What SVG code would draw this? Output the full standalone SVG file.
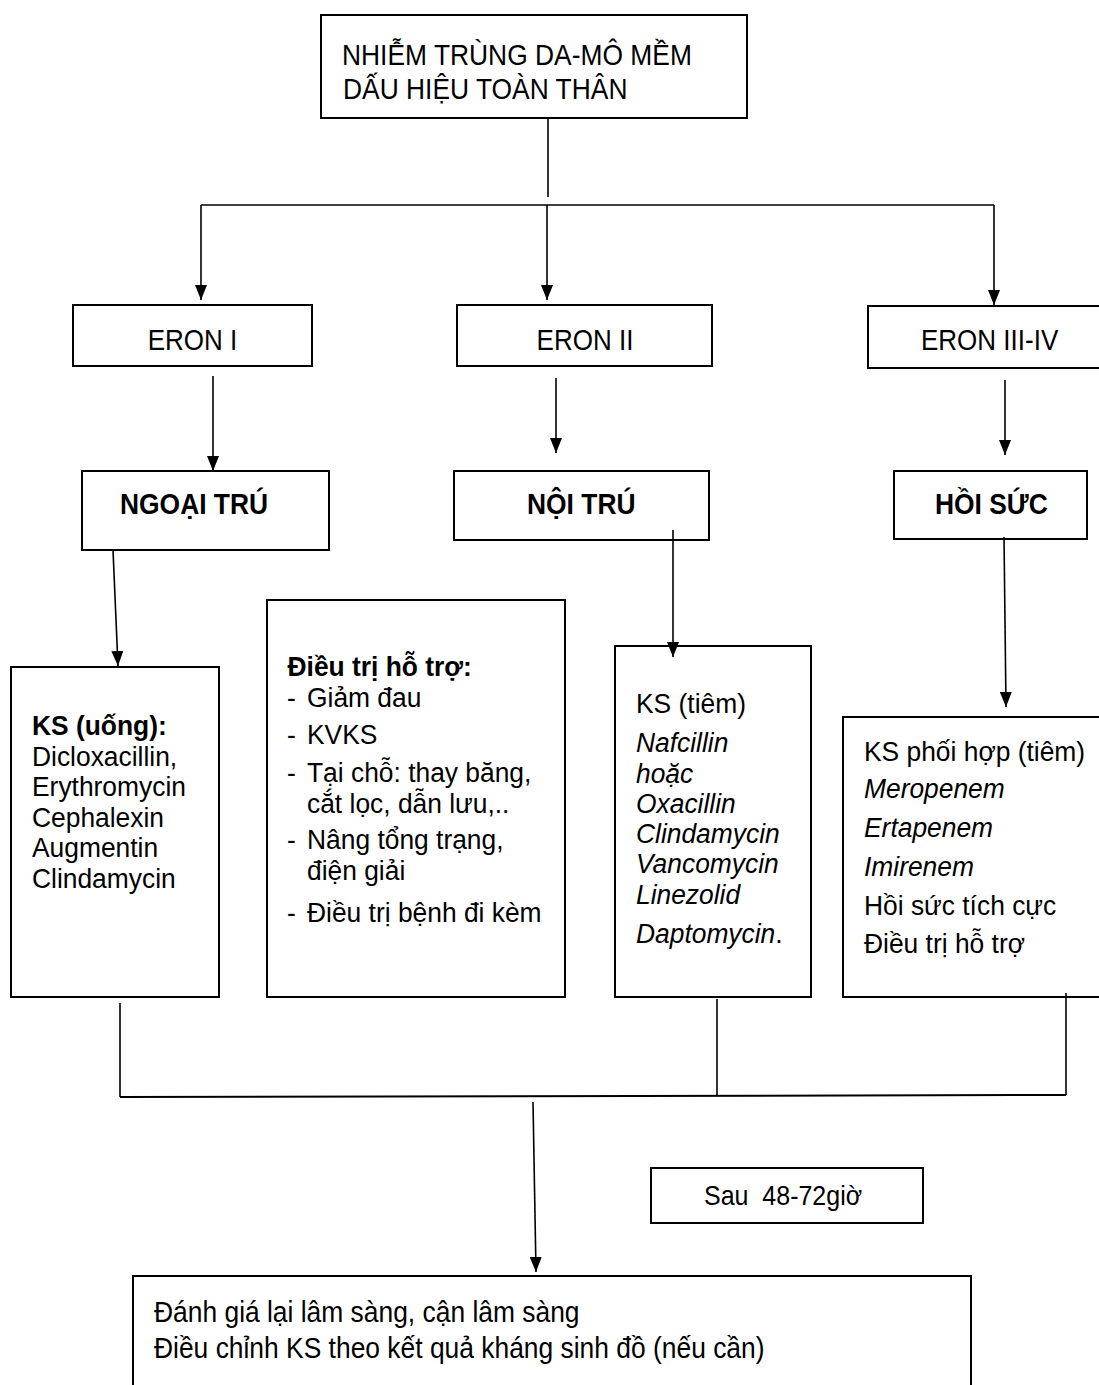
<svg xmlns="http://www.w3.org/2000/svg" width="1099" height="1385" viewBox="0 0 1099 1385">
<defs>
<marker id="ah" markerUnits="userSpaceOnUse" markerWidth="15" markerHeight="12" refX="15" refY="6" orient="auto"><path d="M0,0 L15,6 L0,12 z" fill="#000"/></marker>
</defs>
<style>
.box{fill:#fff;stroke:#000;stroke-width:2}
.t{font-family:"Liberation Sans",Arial,sans-serif;font-size:26.4px;fill:#000}
.e{font-size:26px}
.b{font-weight:bold}
.i{font-style:italic}
.n{font-style:normal}
.c{fill:none;stroke:#000;stroke-width:1.6}
.a{marker-end:url(#ah)}
</style>
<rect width="1099" height="1385" fill="#fff"/>
<g id="n-top">
<rect class="box" x="321" y="15" width="426" height="103"/>
<text class="t" transform="translate(342 65) scale(1 1.12)">NHIỄM TRÙNG DA-MÔ MỀM</text>
<text class="t" transform="translate(343 99) scale(1 1.12)">DẤU HIỆU TOÀN THÂN</text>
</g>
<g id="n-eron1">
<rect class="box" x="73" y="305" width="239" height="61"/>
<text class="t e" text-anchor="middle" transform="translate(192.5 350) scale(1 1.1)">ERON I</text>
</g>
<g id="n-eron2">
<rect class="box" x="457" y="305" width="255" height="61"/>
<text class="t e" text-anchor="middle" transform="translate(585 350) scale(1 1.1)">ERON II</text>
</g>
<g id="n-eron34">
<rect class="box" x="868" y="306" width="245" height="62"/>
<text class="t e" transform="translate(921 350) scale(1 1.1)">ERON III-IV</text>
</g>
<g id="n-ngoaitru">
<rect class="box" x="82" y="471" width="247" height="79"/>
<text class="t b" transform="translate(120 514) scale(1 1.1)">NGOẠI TRÚ</text>
</g>
<g id="n-noitru">
<rect class="box" x="454" y="471" width="255" height="69"/>
<text class="t b" transform="translate(527 514) scale(1 1.1)">NỘI TRÚ</text>
</g>
<g id="n-hoisuc">
<rect class="box" x="894" y="471" width="193" height="68"/>
<text class="t b" transform="translate(935 514) scale(1 1.1)">HỒI SỨC</text>
</g>
<g id="n-ksuong">
<rect class="box" x="11" y="667" width="208" height="330"/>
<text class="t b" transform="translate(32 735) scale(1 1.05)">KS (uống):</text>
<text class="t" transform="translate(32 765.5) scale(1 1.05)">Dicloxacillin,</text>
<text class="t" transform="translate(32 796) scale(1 1.05)">Erythromycin</text>
<text class="t" transform="translate(32 826.5) scale(1 1.05)">Cephalexin</text>
<text class="t" transform="translate(32 857) scale(1 1.05)">Augmentin</text>
<text class="t" transform="translate(32 887.5) scale(1 1.05)">Clindamycin</text>
</g>
<g id="n-hotro">
<rect class="box" x="267" y="600" width="298" height="397"/>
<text class="t b" transform="translate(287.5 676) scale(1 1.05)">Điều trị hỗ trợ:</text>
<text class="t" transform="translate(287 707) scale(1 1.05)">-</text>
<text class="t" transform="translate(307 707) scale(1 1.05)">Giảm đau</text>
<text class="t" transform="translate(287 744) scale(1 1.05)">-</text>
<text class="t" transform="translate(307 744) scale(1 1.05)">KVKS</text>
<text class="t" transform="translate(287 782) scale(1 1.05)">-</text>
<text class="t" transform="translate(307 782) scale(1 1.05)">Tại chỗ: thay băng,</text>
<text class="t" transform="translate(307 813) scale(1 1.05)">cắt lọc, dẫn lưu,..</text>
<text class="t" transform="translate(287 849) scale(1 1.05)">-</text>
<text class="t" transform="translate(307 849) scale(1 1.05)">Nâng tổng trạng,</text>
<text class="t" transform="translate(307 880) scale(1 1.05)">điện giải</text>
<text class="t" transform="translate(287 922) scale(1 1.05)">-</text>
<text class="t" transform="translate(307 922) scale(1 1.05)">Điều trị bệnh đi kèm</text>
</g>
<g id="n-kstiem">
<rect class="box" x="615" y="646" width="196" height="351"/>
<text class="t" transform="translate(636 713) scale(1 1.05)">KS (tiêm)</text>
<text class="t i" transform="translate(636 752) scale(1 1.05)">Nafcillin</text>
<text class="t i" transform="translate(636 783) scale(1 1.05)">hoặc</text>
<text class="t i" transform="translate(636 813) scale(1 1.05)">Oxacillin</text>
<text class="t i" transform="translate(636 843) scale(1 1.05)">Clindamycin</text>
<text class="t i" transform="translate(636 873) scale(1 1.05)">Vancomycin</text>
<text class="t i" transform="translate(636 904) scale(1 1.05)">Linezolid</text>
<text class="t i" transform="translate(636 943) scale(1 1.05)">Daptomycin<tspan class="n">.</tspan></text>
</g>
<g id="n-ksphoihop">
<rect class="box" x="843" y="717" width="270" height="280"/>
<text class="t" transform="translate(864 761) scale(1 1.05)">KS phối hợp (tiêm)</text>
<text class="t i" transform="translate(864 798) scale(1 1.05)">Meropenem</text>
<text class="t i" transform="translate(864 837) scale(1 1.05)">Ertapenem</text>
<text class="t i" transform="translate(864 876) scale(1 1.05)">Imirenem</text>
<text class="t" transform="translate(864 915) scale(1 1.05)">Hồi sức tích cực</text>
<text class="t" transform="translate(864 953) scale(1 1.05)">Điều trị hỗ trợ</text>
</g>
<g id="n-sau">
<rect class="box" x="651" y="1168" width="272" height="55"/>
<text class="t" style="white-space:pre;font-size:25px" transform="translate(704 1205) scale(1 1.1)">Sau  48-72giờ</text>
</g>
<g id="n-danhgia">
<rect class="box" x="133" y="1276" width="838" height="130"/>
<text class="t" transform="translate(154 1322) scale(1 1.1)">Đánh giá lại lâm sàng, cận lâm sàng</text>
<text class="t" transform="translate(154 1358) scale(1 1.1)">Điều chỉnh KS theo kết quả kháng sinh đồ (nếu cần)</text>
</g>
<g id="connectors">
<line class="c" x1="548" y1="118" x2="548" y2="197"/>
<line class="c" x1="201" y1="205" x2="994" y2="205"/>
<line class="c a" x1="201" y1="205" x2="201" y2="300"/>
<line class="c a" x1="547" y1="205" x2="547" y2="300"/>
<line class="c a" x1="994" y1="205" x2="994" y2="305"/>
<line class="c a" x1="213" y1="376" x2="213" y2="471"/>
<line class="c a" x1="556" y1="378" x2="556" y2="453"/>
<line class="c a" x1="1005" y1="380" x2="1005" y2="455"/>
<line class="c a" x1="113" y1="550" x2="118" y2="666"/>
<line class="c a" x1="673" y1="530" x2="673" y2="657"/>
<line class="c a" x1="1004" y1="537" x2="1006" y2="707"/>
<line class="c" x1="120" y1="1003" x2="120" y2="1097"/>
<line class="c" x1="717" y1="999" x2="717" y2="1096"/>
<line class="c" x1="1066" y1="993" x2="1066" y2="1095"/>
<line class="c" x1="120" y1="1097" x2="1066" y2="1095" style="stroke-width:2"/>
<line class="c a" x1="533" y1="1102" x2="536" y2="1272"/>
</g>
</svg>
